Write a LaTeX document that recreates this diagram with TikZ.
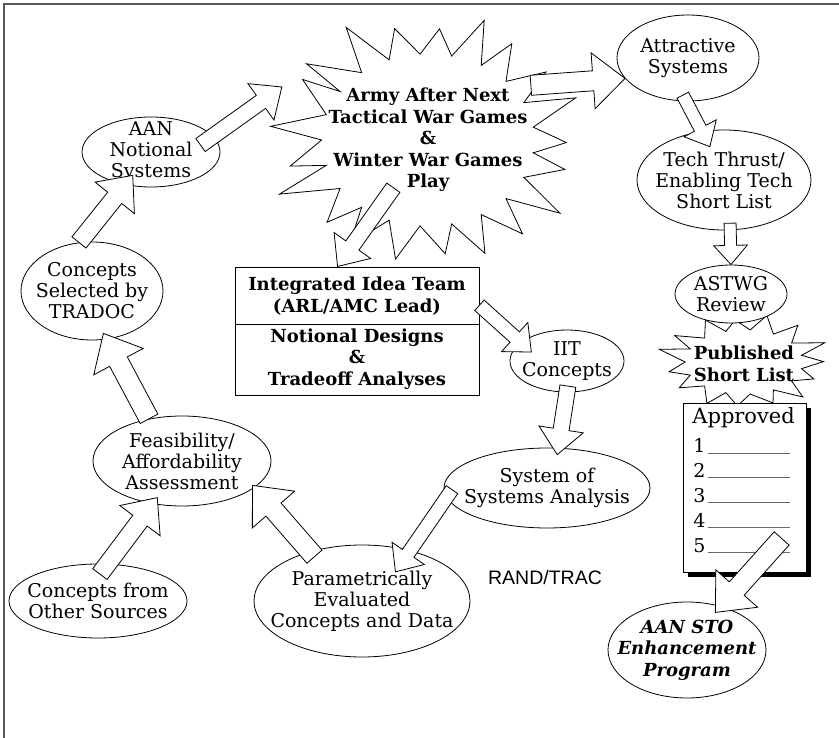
\documentclass[tikz,border=0pt]{standalone}
\usepackage{fontspec}
\setmainfont{DejaVu Serif}
\newfontfamily\randfont{Liberation Sans}
\usetikzlibrary{shapes.geometric,calc,shadows}

\newcommand\plainfont{\fontsize{19}{21}\selectfont}
\newcommand\heavyfont{\fontsize{18}{21.5}\selectfont\bfseries}

\tikzset{
  txt/.style={align=center, font=\plainfont, inner sep=0pt},
  heavy/.style={align=center, font=\heavyfont, inner sep=0pt},
  bubble/.style 2 args={ellipse, draw, fill=white, inner sep=0pt,
    minimum width=#1, minimum height=#2},
  burst/.style={draw, fill=white, line join=miter},
  fat/.style={draw, fill=white, line join=miter},
}

% spiky outline: centre, x radius, y radius, points, inner ratio
\newcommand\spiky[5]{%
  \draw[burst, shift={(#1)}] ({0.5*360/#4}:{#2*#5} and {#3*#5})
    \foreach \k in {1,...,#4} {
      -- ({\k*360/#4+8*rnd-4}:{#2*(0.9+0.18*rnd)} and {#3*(0.9+0.18*rnd)})
      -- ({(\k+0.5)*360/#4}:{#2*#5} and {#3*#5})
    } -- cycle;
}
% hollow block arrow from #2 to #3, #1 is half the shaft width
\newcommand\fatarrow[3][8]{%
  \draw[fat] let \p1=#2, \p2=#3,
      \n1={atan2(\y2-\y1,\x2-\x1)}, \n2={veclen(\x2-\x1,\y2-\y1)} in
    [shift={(\p1)}, rotate=\n1]
    (0pt,{-#1pt}) -- ({\n2-3.2*#1pt},{-#1pt}) -- ({\n2-3.2*#1pt},{-2.8*#1pt})
    -- ({\n2*1pt},0pt) -- ({\n2-3.2*#1pt},{2.8*#1pt}) -- ({\n2-3.2*#1pt},{#1pt})
    -- (0pt,{#1pt}) -- cycle;
}

\begin{document}
\begin{tikzpicture}[x=1pt, y=-1pt, line width=0.8pt]
  \useasboundingbox (0,0) rectangle (839,738);
  \pgfmathsetseed{7}
  % frame
  \draw[gray!70!black, line width=1.2pt] (4,738) -- (4,4) -- (839,4);

  % war games burst
  \coordinate (warc) at (428,140);
  \spiky{warc}{152}{123}{21}{0.7}
  \node[heavy, ellipse, minimum width=320, minimum height=256] (war) at (warc)
    {Army After Next\\Tactical War Games\\\&\\Winter War Games\\Play};

  % published short list burst
  \coordinate (pubc) at (744,362);
  \spiky{pubc}{84}{46}{15}{0.7}
  \node[heavy] (pub) at (744,364) {Published\\Short List};

  % approved list
  \node[draw, fill=white, inner sep=0pt, minimum width=123, minimum height=169,
    drop shadow={shadow xshift=5pt, shadow yshift=-5pt, fill=black, opacity=1}]
    (list) at (744.5,487.5) {};
  \node[anchor=base west, font=\fontsize{21}{21}\selectfont, inner sep=0pt]
    (appr) at (692,423) {Approved};
  \foreach \n in {1,...,5} {
    \node[txt, anchor=base west] (num\n) at (693,{453+24.75*(\n-1)}) {\n};
    \draw[gray!80!black, line width=0.6pt] (num\n.base east) ++(2,0) -- ++(82,0);
  }

  % ellipses
  \node[bubble={138}{70}] (aan) at (151,152) {};
  \node[txt] (aant) at (aan) {AAN\\Notional\\Systems};
  \node[bubble={142}{98}] (tradoc) at (92,291) {};
  \node[txt] (tradoct) at (tradoc) {Concepts\\Selected by\\TRADOC};
  \node[bubble={178}{90}] (feas) at (182,461) {};
  \node[txt] (feast) at (feas) {Feasibility/\\Affordability\\Assessment};
  \node[bubble={178}{74}] (other) at (98,601) {};
  \node[txt] (othert) at (other) {Concepts from\\Other Sources};
  \node[bubble={216}{112}] (param) at (362,601) {};
  \node[txt] (paramt) at (param) {Parametrically\\Evaluated\\Concepts and Data};
  \node[bubble={206}{80}] (sos) at (547,488) {};
  \node[txt] (sost) at (sos) {System of\\Systems Analysis};
  \node[bubble={114}{62}] (iit) at (567,361) {};
  \node[txt] (iitt) at (iit) {IIT\\Concepts};
  \node[bubble={142}{86}] (attr) at (688,58) {};
  \node[txt] (attrt) at (attr) {Attractive\\Systems};
  \node[bubble={174}{100}] (tech) at (724,180) {};
  \node[txt] (techt) at (tech) {Tech Thrust/\\Enabling Tech\\Short List};
  \node[bubble={112}{58}] (astwg) at (731,294) {};
  \node[txt] (astwgt) at (astwg) {ASTWG\\Review};
  \node[bubble={158}{96}] (sto) at (687,650) {};
  \node[heavy, font=\heavyfont\itshape] (stot) at (sto)
    {AAN STO\\Enhancement\\Program};

  % idea team box
  \node[draw, fill=white, inner sep=0pt, minimum width=244, minimum height=128]
    (box) at (357,331) {};
  \draw ($(box.north west)!0.445!(box.south west)$)
    -- ($(box.north east)!0.445!(box.south east)$);
  \node[heavy] (boxtop) at (357,296) {Integrated Idea Team\\(ARL/AMC Lead)};
  \node[heavy] (boxbot) at (357,359) {Notional Designs\\\&\\Tradeoff Analyses};

  \node[font=\randfont\fontsize{19.5}{21}\selectfont, inner sep=0pt]
    (rand) at (545,578) {RAND/TRAC};

  % block arrows
  \fatarrow[8]{($(aan)!0.74!(aan.8)$)}{(war.160)}
  \fatarrow[9]{(tradoc.105)}{($(aan)!0.71!(aan.232)$)}
  \fatarrow[10]{(feas.128)}{($(tradoc)!0.87!(tradoc.-75)$)}
  \fatarrow[9]{($(other)!0.72!(other.86)$)}{($(feas)!0.85!(feas.236)$)}
  \fatarrow[10]{($(param)!0.9!(param.137)$)}{($(feas)!0.95!(feas.-19)$)}
  \fatarrow[7]{($(sos)!0.92!(sos.181)$)}{($(param)!0.6!(param.41)$)}
  \fatarrow[8]{($(iit)!0.8!(iit.-88)$)}{($(sos)!0.83!(sos.73)$)}
  \fatarrow[7]{($(box.north east)!0.3!(box.south east)$)}{($(iit)!0.68!(iit.166)$)}
  \fatarrow[8]{($(war)!0.43!(war.-126)$)}{($(box.north west)!0.42!(box.north east)$)}
  \fatarrow[10]{($(war)!0.77!(war.28)$)}{(attr.198)}
  \fatarrow[6.5]{($(attr)!0.86!(attr.-98)$)}{($(tech)!0.68!(tech.113)$)}
  \fatarrow[6]{($(tech)!0.86!(tech.-82)$)}{(astwg.north)}
  \fatarrow[10]{($(list.north west)!0.8!(list.south east)$)}{($(sto)!0.85!(sto.53)$)}
\end{tikzpicture}
\end{document}
